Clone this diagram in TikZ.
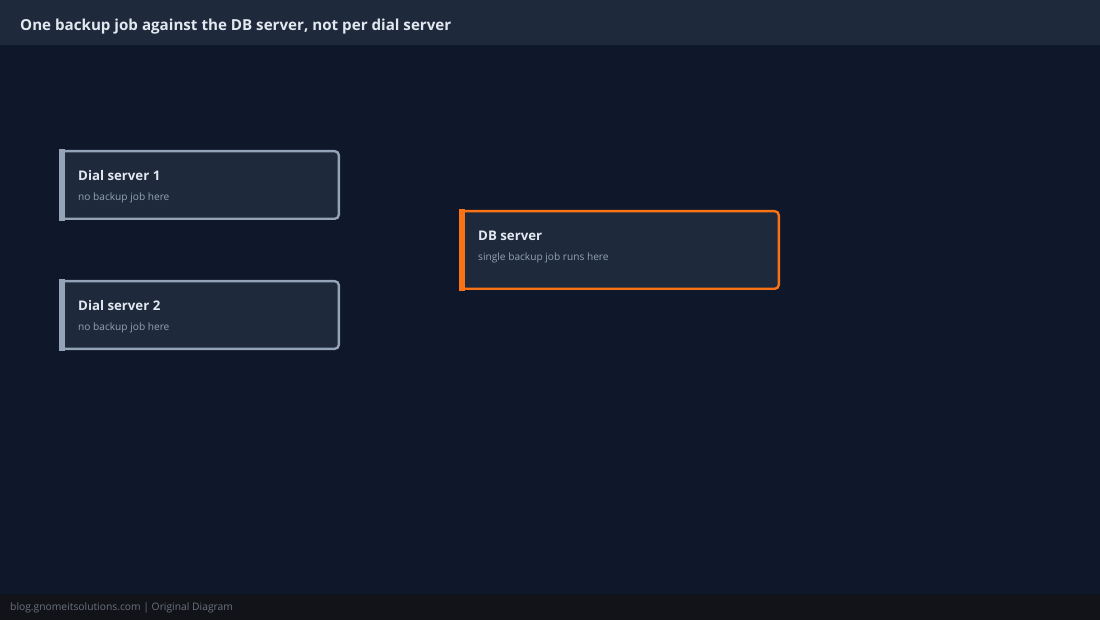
\documentclass[tikz,border=0pt]{standalone}
\usepackage{fontspec}
\setmainfont{Open Sans}
\definecolor{bgmain}{HTML}{0F172A}
\definecolor{bghead}{HTML}{1E293B}
\definecolor{bgfoot}{HTML}{111318}
\definecolor{boxfill}{HTML}{1E293B}
\definecolor{slateb}{HTML}{94A3B8}
\definecolor{orangeb}{HTML}{F97316}
\definecolor{titletxt}{HTML}{E2E8F0}
\definecolor{foottxt}{HTML}{6B7280}
\tikzset{
  srvbox/.style={draw=#1, fill=boxfill, line width=2.4pt, rounded corners=4pt, inner sep=0pt},
  srvtitle/.style={anchor=base west, inner sep=0pt, text=titletxt, font=\fontsize{13.25}{15}\selectfont\bfseries},
  srvsub/.style={anchor=base west, inner sep=0pt, text=slateb, font=\fontsize{10.15}{12}\selectfont},
}
\begin{document}
\begin{tikzpicture}[x=1pt,y=-1pt]
\useasboundingbox (0,0) rectangle (1100,620);
\fill[bgmain] (0,0) rectangle (1100,620);
\fill[bghead] (0,0) rectangle (1100,45);
\fill[bgfoot] (0,594) rectangle (1100,620);
\node[anchor=base west, inner sep=0pt, text=titletxt, font=\fontsize{15.15}{18}\selectfont\bfseries] (title) at (20,30.5) {One backup job against the DB server, not per dial server};
\node[anchor=base west, inner sep=0pt, text=foottxt, font=\fontsize{10.3}{12}\selectfont] (foot) at (10,610) {blog.gnomeitsolutions.com | Original Diagram};

% Dial server 1
\node[srvbox=slateb, minimum width=277.6pt, minimum height=67.6pt] (d1) at (200,185) {};
\fill[slateb] ([shift={(-1.2pt,1.2pt)}]d1.north west) rectangle ([shift={(5pt,-1.2pt)}]d1.south west);
\node[srvtitle] (d1t) at (78,180.5) {Dial server 1};
\node[srvsub] (d1s) at (78,200.5) {no backup job here};

% Dial server 2
\node[srvbox=slateb, minimum width=277.6pt, minimum height=67.6pt] (d2) at (200,315) {};
\fill[slateb] ([shift={(-1.2pt,1.2pt)}]d2.north west) rectangle ([shift={(5pt,-1.2pt)}]d2.south west);
\node[srvtitle] (d2t) at (78,310.5) {Dial server 2};
\node[srvsub] (d2s) at (78,330.5) {no backup job here};

% DB server
\node[srvbox=orangeb, minimum width=317.6pt, minimum height=77.6pt] (db) at (620,250) {};
\fill[orangeb] ([shift={(-1.2pt,1.2pt)}]db.north west) rectangle ([shift={(5pt,-1.2pt)}]db.south west);
\node[srvtitle] (dbt) at (478,240.5) {DB server};
\node[srvsub] (dbs) at (478,260.5) {single backup job runs here};
\end{tikzpicture}
\end{document}
